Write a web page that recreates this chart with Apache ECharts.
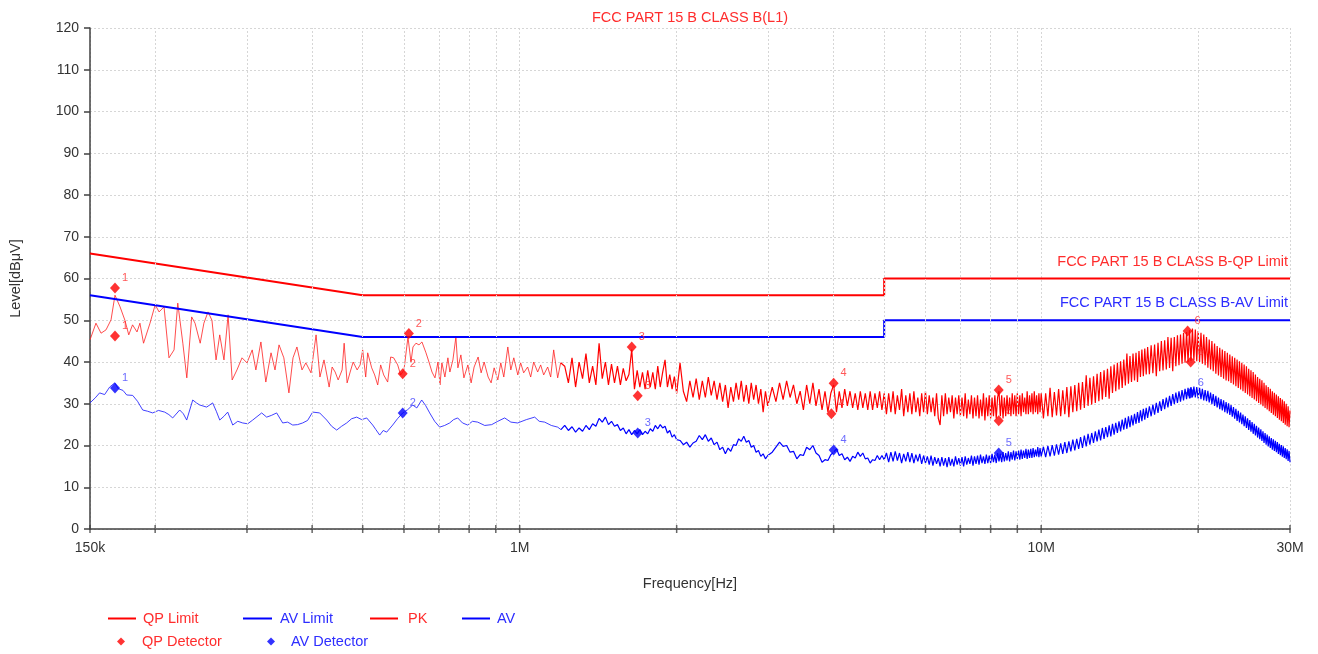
<!DOCTYPE html>
<html><head><meta charset="utf-8">
<script src="https://cdn.jsdelivr.net/npm/echarts@6/dist/echarts.min.js"></script>
<style>html,body{margin:0;padding:0;background:#fff}#c{width:1318px;height:654px}</style>
</head><body><div id="c"></div>
<script>
// ---------------- data (frequencies in MHz, levels in dBuV) ----------------
const titleText = 'FCC PART 15 B CLASS B(L1)';
const qpLimitLabel = 'FCC PART 15 B CLASS B-QP Limit';
const avLimitLabel = 'FCC PART 15 B CLASS B-AV Limit';
const xTickValues = [0.15, 1, 10, 30];
const xTickNames = ['150k', '1M', '10M', '30M'];
const tickFreq = [0.15,0.2,0.3,0.4,0.5,0.6,0.7,0.8,0.9,1,2,3,4,5,6,7,8,9,10,20,30];
const minorGridFreq = [0.2,0.3,0.4,0.5,0.6,0.7,0.8,0.9,2,3,4,5,6,7,8,9,20];

const qpLimitFreq = [0.15, 0.5, 5, 5, 30];
const qpLimitLevel = [66, 56, 56, 60, 60];
const avLimitFreq = [0.15, 0.5, 5, 5, 30];
const avLimitLevel = [56, 46, 46, 50, 50];

const pkLow = [[0.150,45.3],[0.154,49.3],[0.1575,46.9],[0.161,47.7],[0.1646,50.1],[0.1675,56.0],[0.1713,53.2],[0.175,50.0],[0.178,46.5],[0.181,48.9],[0.1846,47.2],[0.187,49.3],[0.190,44.5],[0.1955,49.3],[0.200,53.7],[0.2035,52.0],[0.208,53.2],[0.2126,41.0],[0.2174,42.9],[0.221,54.1],[0.226,44.5],[0.230,36.2],[0.235,50.8],[0.2385,49.3],[0.244,44.5],[0.248,49.3],[0.2526,52.0],[0.257,50.0],[0.2617,40.5],[0.266,46.5],[0.271,40.5],[0.276,51.3],[0.281,35.7],[0.287,38.1],[0.2935,41.0],[0.300,39.8],[0.307,42.9],[0.312,38.1],[0.319,44.8],[0.326,35.2],[0.3336,42.2],[0.3395,38.1],[0.3456,44.1],[0.353,41.0],[0.361,32.6],[0.3676,41.0],[0.374,43.6],[0.3825,38.1],[0.389,39.8],[0.398,37.4],[0.407,46.5],[0.414,36.4],[0.4215,40.5],
[0.4312,34.0],[0.4369,38.8],[0.4428,37.6],[0.4487,35.7],[0.4566,38.1],[0.4607,44.5],[0.4668,35.0],[0.4731,37.6],[0.4794,40.0],[0.4879,38.1],[0.4944,39.3],[0.500,42.9],[0.5067,36.4],[0.5112,42.2],[0.5203,38.6],[0.5272,36.9],[0.5343,34.5],[0.5413,39.3],[0.5486,36.9],[0.5583,35.2],[0.5658,41.2],[0.5733,41.0],[0.5836,39.3],[0.5913,36.9],[0.600,38.1],[0.6107,46.0],[0.6188,40.0],[0.6243,43.6],[0.6326,44.5],[0.6411,44.1],[0.6496,44.8],[0.6612,42.2],[0.670,40.0],[0.679,37.6],[0.688,36.2],[0.6972,40.0],[0.7034,34.5],[0.7093,39.8],[0.7188,36.4],[0.7284,41.0],[0.7348,37.6],[0.7447,40.5],[0.7546,46.0],[0.7613,38.6],[0.7714,41.7],[0.7817,36.2],[0.7956,39.3],[0.8071,35.0],[0.8178,38.8],[0.8324,41.2],[0.8435,37.4],[0.8548,40.0],[0.870,36.4],[0.8816,35.0],[0.8934,38.6],[0.908,35.7],[0.920,39.8],[0.9323,36.4],[0.949,43.6],[0.9617,38.1],[0.9744,41.0],[0.9918,36.9],[1.0044,39.8],[1.0178,37.4],[1.0359,38.8],[1.0498,36.4],[1.0638,40.0],[1.0827,37.6],[1.0971,39.3],[1.1118,36.9],[1.1316,38.8],[1.1467,36.4],[1.162,42.9],[1.1827,36.2],[1.1984,39.8]];

const avLow = [[0.150,30.2],[0.1535,31.4],[0.1565,32.6],[0.160,32.2],[0.1636,34.0],[0.1673,35.0],[0.170,33.6],[0.1735,33.2],[0.1764,32.1],[0.1811,32.0],[0.185,30.6],[0.1893,28.5],[0.1935,28.2],[0.1978,27.8],[0.203,28.4],[0.2086,28.0],[0.2125,27.4],[0.2161,26.6],[0.2229,28.5],[0.2265,27.6],[0.2299,26.1],[0.2361,30.9],[0.240,30.2],[0.2435,29.7],[0.2511,29.2],[0.2578,30.2],[0.262,28.2],[0.2660,26.1],[0.271,27.0],[0.2755,28.0],[0.2817,24.9],[0.288,25.8],[0.2943,25.4],[0.301,25.2],[0.3077,26.1],[0.3201,27.8],[0.3272,26.8],[0.334,27.2],[0.3420,27.8],[0.3512,25.4],[0.359,25.6],[0.3671,24.9],[0.375,25.0],[0.3836,25.4],[0.392,26.0],[0.4009,28.0],[0.4135,27.8],[0.4265,26.1],[0.436,24.6],[0.4458,23.7],[0.4555,24.6],[0.4659,25.4],[0.476,26.4],[0.4869,26.8],[0.498,26.2],[0.5089,26.6],[0.5226,24.9],[0.530,23.8],[0.5390,22.5],[0.5475,23.6],[0.5559,23.2],[0.5708,24.9],[0.583,26.4],[0.5966,27.8],[0.610,28.6],[0.6235,29.7],[0.635,29.0],[0.6488,30.9],[0.660,29.6],[0.6721,27.8],[0.687,25.8],[0.7024,24.4],[0.718,24.8],[0.7341,25.4],[0.747,26.2],[0.7605,26.6],[0.777,25.4],[0.7949,24.9],[0.812,25.8],[0.8308,25.6],[0.857,24.8],[0.8837,25.0],[0.908,25.8],[0.9359,26.6],[0.962,25.6],[0.9912,25.4],[1.03,26.2],[1.0685,26.8],[1.09,25.8],[1.1167,25.6],[1.15,24.8],[1.1827,24.4],[1.20,23.8]];

// dense part of the scan (1.22 MHz - 30 MHz): shared frequency list, PK and AV readings
const hiFreq = [
1.22,1.24,1.26,1.28,1.30,1.32,1.34,1.36,1.38,1.40,1.42,1.44,1.46,1.48,1.50,1.52,1.54,1.56,1.58,1.60,1.62,1.64,1.66,1.68,1.70,1.72,1.74,1.76,1.78,1.80,1.82,1.84,1.86,1.88,1.90,1.92,1.94,1.96,1.98,2.00,
2.03,2.06,2.09,2.12,2.15,2.18,2.21,2.24,2.27,2.30,2.33,2.36,2.39,2.42,2.45,2.48,2.51,2.54,2.57,2.60,2.63,2.66,2.69,2.72,2.75,2.78,2.81,2.84,2.87,2.90,2.93,2.96,2.99,
3.05,3.10,3.15,3.20,3.25,3.30,3.35,3.40,3.45,3.50,3.55,3.60,3.65,3.70,3.75,3.80,3.85,3.90,3.95,4.00,4.05,4.10,4.15,4.20,4.25,4.30,4.35,4.40,4.45,4.50,4.55,4.60,4.65,4.70,4.75,4.80,4.85,4.90,4.95,5.00,
5.05,5.10,5.15,5.20,5.25,5.30,5.35,5.40,5.45,5.50,
5.55,5.60,5.65,5.70,5.75,5.80,5.85,5.90,5.95,6.00,
6.05,6.10,6.15,6.20,6.25,6.30,6.35,6.40,6.45,6.50,
6.55,6.60,6.65,6.70,6.75,6.80,6.85,6.90,6.95,7.00,
7.05,7.10,7.15,7.20,7.25,7.30,7.35,7.40,7.45,7.50,
7.55,7.60,7.65,7.70,7.75,7.80,7.85,7.90,7.95,8.00,
8.05,8.10,8.15,8.20,8.25,8.30,8.35,8.40,8.45,8.50,
8.55,8.60,8.65,8.70,8.75,8.80,8.85,8.90,8.95,9.00,
9.05,9.10,9.15,9.20,9.25,9.30,9.35,9.40,9.45,9.50,
9.55,9.60,9.65,9.70,9.75,9.80,9.85,9.90,9.95,10.00,
10.1,10.2,10.3,10.4,10.5,10.6,10.7,10.8,10.9,11.0,
11.1,11.2,11.3,11.4,11.5,11.6,11.7,11.8,11.9,12.0,
12.1,12.2,12.3,12.4,12.5,12.6,12.7,12.8,12.9,13.0,
13.1,13.2,13.3,13.4,13.5,13.6,13.7,13.8,13.9,14.0,
14.1,14.2,14.3,14.4,14.5,14.6,14.7,14.8,14.9,15.0,
15.1,15.2,15.3,15.4,15.5,15.6,15.7,15.8,15.9,16.0,
16.125,16.25,16.375,16.5,16.625,16.75,16.875,17.0,
17.125,17.25,17.375,17.5,17.625,17.75,17.875,18.0,
18.125,18.25,18.375,18.5,18.625,18.75,18.875,19.0,
19.125,19.25,19.375,19.5,19.625,19.75,19.875,20.0,
20.125,20.25,20.375,20.5,20.625,20.75,20.875,21.0,
21.125,21.25,21.375,21.5,21.625,21.75,21.875,22.0,
22.125,22.25,22.375,22.5,22.625,22.75,22.875,23.0,
23.125,23.25,23.375,23.5,23.625,23.75,23.875,24.0,
24.125,24.25,24.375,24.5,24.625,24.75,24.875,25.0,
25.125,25.25,25.375,25.5,25.625,25.75,25.875,26.0,
26.125,26.25,26.375,26.5,26.625,26.75,26.875,27.0,
27.125,27.25,27.375,27.5,27.625,27.75,27.875,28.0,
28.125,28.25,28.375,28.5,28.625,28.75,28.875,29.0,
29.125,29.25,29.375,29.5,29.625,29.75,29.875,30.0];

const hiPk = [
39,35,41,34,40,36,42,35,39,34.5,44.5,36,40,34.5,39.5,35,39,34.5,38.5,35.5,37,43,33.5,38,34,37.5,33.5,38,34,37.5,33.5,39,34,37.5,40.5,34,37,33.5,36.5,32.5,
39.8,33,30.5,35.5,31.5,36,31,35.5,31.5,36.4,32,35.5,31,35,30.5,34.5,29,34,30.5,35,31,35.5,30.5,34.5,30,35,31,34.5,30,33.5,28,33,29.5,
34,30.5,35,31,35.5,31.5,34.5,30,33,28.5,34.5,30,35,29.5,33.5,28.5,33,28,32.5,34.5,28,33,29,33.5,29.5,33,29,32.5,28.5,33,29,32.5,28.5,33,28.5,32.5,29,33,28.5,32.5,
27.5,32.5,28,33,27.5,32,28.5,33.5,27,32,
28,32.5,27.5,33,28,31.5,27,32.5,28,33,
27.5,32,28,31.5,27,32.5,26.5,24.9,32,27,
32.5,27.5,31.5,28,32,26.5,31.5,27.5,32,27,
31.5,27,32.5,26.5,31,27.5,32,26.5,31.5,27,
32,26.5,31,27,32.5,26,31.5,27,32,26.5,
31.5,27,32,26.5,31.5,33,27,32,26.5,31.5,
27,32,27.5,31.5,27,32.5,27.5,32,27,32.5,
27.5,32,27,32.5,28,31.5,27.5,33,27.5,32,
28,32.5,27.5,33,28,32,27.5,32.5,28,32.5,
26.5,32.5,27,33.8,26.8,32.8,27.2,33.5,27,33.2,
27.5,34,26.8,34.2,28,34.5,28.2,35,28.6,35.2,
29,36.8,29.5,36.2,29.8,36.6,30.2,37.2,30.6,37.6,
31,38,31.6,38.4,31.2,39,32.6,39.4,33,39.8,
33.4,40.2,33.8,40.6,34.4,42,34.8,41.4,35.2,42,
35.6,42.2,35.2,42.6,36.4,43,36.6,43.2,37,43.6,
37.1,44.0,37.3,44.2,36.6,44.6,37.8,45.0,
38.0,45.2,38.2,46.0,38.6,45.8,37.8,46.0,
39.0,46.4,39.2,46.6,39.6,47.0,39.8,47.2,
40.0,47.6,40.2,48.0,40.4,47.8,40.2,47.4,
40.0,47.0,39.6,46.6,39.2,46.0,38.6,45.4,
38.2,45.0,37.8,44.4,37.2,43.8,36.8,43.4,
36.4,43.0,36.0,42.6,35.6,42.2,35.4,41.8,
35.0,41.4,34.6,41.0,34.2,40.6,33.8,40.2,
33.4,39.8,33.0,39.4,32.6,39.0,32.2,38.4,
31.8,38.0,31.4,37.6,31.0,37.0,30.6,36.4,
30.2,36.0,29.8,35.6,29.4,35.0,29.0,34.4,
28.6,34.0,28.2,33.6,27.8,33.0,27.4,32.6,
27.0,32.2,26.6,31.8,26.2,31.4,25.8,31.0,
25.4,30.6,25.0,30.0,24.6,29.4,24.4,28.4];

const hiAv = [
24.8,23.6,24.5,23.2,24.2,23.4,24.8,23.8,25.2,24.6,26.5,25.6,26.8,25.0,25.8,24.6,25.0,23.6,24.2,22.8,23.8,22.6,23.6,22.8,23.8,22.6,23.4,22.8,24.0,23.4,24.8,24.0,25.0,24.2,24.6,23.0,23.6,22.0,22.6,21.4,
21.2,20.2,20.8,19.6,20.6,21.0,22.4,21.4,22.6,21.0,21.8,20.2,20.8,19.0,19.6,18.0,19.4,18.6,20.2,20.0,21.6,21.0,22.2,20.8,21.2,19.6,20.0,18.4,18.8,17.4,18.0,16.8,17.6,
18.4,19.6,20.8,19.8,20.0,18.4,18.6,16.8,17.8,17.6,19.6,19.0,20.0,18.2,17.6,16.0,16.6,16.4,17.8,18.4,19.2,17.6,18.0,16.6,17.2,16.2,17.4,17.0,18.4,17.4,18.2,16.8,17.0,15.8,16.6,16.4,17.6,16.6,17.6,16.6,
18.2,16.0,18.4,16.2,18.6,16.4,18.2,15.8,18.0,16.2,
18.4,16.0,18.2,15.8,17.8,16.2,18.0,15.6,17.6,15.8,
17.4,15.4,17.6,15.2,17.2,15.6,17.0,15.0,17.2,15.2,
17.0,14.8,17.2,15.2,16.8,15.0,17.4,15.4,17.0,15.2,
17.2,15.0,17.4,15.4,17.0,15.6,17.6,15.2,17.4,15.6,
17.6,15.4,17.8,15.8,17.4,15.6,17.8,15.8,17.6,15.8,
18.0,16.0,17.8,15.8,18.2,16.2,18.0,16.0,18.4,16.2,
18.2,16.4,18.6,16.2,18.4,16.6,18.8,16.4,18.6,16.8,
18.8,16.6,19.0,16.8,18.8,17.0,19.2,16.8,19.0,17.0,
19.2,17.0,19.4,17.2,19.0,17.4,19.6,17.2,19.4,17.4,
19.7,17.2,19.9,17.4,20.1,17.6,20.3,17.8,20.5,18.0,
20.8,18.2,21.0,18.6,21.4,18.8,21.6,19.2,22.0,19.4,
22.4,19.8,22.8,20.2,23.0,20.6,23.4,21.0,23.8,21.2,
24.2,21.6,24.4,22.0,24.8,22.2,25.2,22.6,25.4,23.0,
25.8,23.4,26.2,23.8,26.6,24.0,27.0,24.4,27.2,24.8,
27.6,25.2,28.0,25.4,28.4,25.8,28.8,26.2,29.0,26.6,
29.4,27.0,29.8,27.4,30.2,27.8,30.6,28.3,
31.1,28.7,31.5,29.1,31.9,29.5,32.3,29.9,
32.7,30.2,33.0,30.5,33.3,30.8,33.6,31.1,
33.8,31.3,34.0,31.5,34.1,31.5,34.0,31.3,
33.8,31.1,33.6,30.8,33.3,30.6,33.1,30.3,
32.7,29.9,32.3,29.5,31.9,29.1,31.5,28.7,
31.1,28.4,30.8,28.0,30.4,27.7,30.1,27.3,
29.7,26.9,29.2,26.4,28.8,25.9,28.3,25.5,
27.9,25.1,27.4,24.6,27.0,24.2,26.5,23.7,
26.1,23.3,25.6,22.8,25.2,22.4,24.7,21.9,
24.3,21.5,23.9,21.1,23.4,20.6,23.0,20.2,
22.6,19.8,22.2,19.4,21.8,19.0,21.5,18.7,
21.1,18.4,20.8,18.0,20.4,17.7,20.1,17.3,
19.8,17.0,19.4,16.7,19.1,16.3,18.7,16.0];

const qpDetFreq  = [0.1675, 0.1675, 0.6131, 0.5966, 1.64, 1.684, 4.0, 3.96, 8.29, 8.29, 19.09, 19.35];
const qpDetLevel = [57.7, 46.2, 46.8, 37.2, 43.6, 31.9, 34.9, 27.6, 33.3, 25.9, 47.4, 40.0];
const qpDetNo    = ['1','1','2','2','3','3','4','4','5','5','6','6'];
const avDetFreq  = [0.1675, 0.5966, 1.684, 4.0, 8.29, 19.35];
const avDetLevel = [33.8, 27.8, 23.0, 18.9, 18.2, 32.6];
const avDetNo    = ['1','2','3','4','5','6'];

// ---------------- chart ----------------
const FONT = '"Liberation Sans", Arial, sans-serif';
const RED = '#ff0000', BLUE = '#0000ff', RED_T = '#ff2d2d', BLUE_T = '#2d2dff';
const AXIS = '#404040', GRIDC = '#d6d6d6';
const pair = (fs, vs) => fs.map((f, i) => [f, vs[i]]);
// the dense (noisy) part continues from the last low-frequency point
const pkHiData = [pkLow[pkLow.length - 1]].concat(pair(hiFreq, hiPk));
const avHiData = [avLow[avLow.length - 1]].concat(pair(hiFreq, hiAv));

function legendItem(name, left, top, icon, w, h, color, pad) {
  return { data: [name], left: left, top: top, padding: 0, icon: icon, itemWidth: w, itemHeight: h,
    selectedMode: false, textStyle: { color: color, fontSize: 14.5, fontFamily: FONT, padding: [0, 0, 0, pad] } };
}

const chart = echarts.init(document.getElementById('c'));
chart.setOption({
  animation: false,
  backgroundColor: '#fff',
  grid: { left: 90, right: 28, top: 28, bottom: 125 },
  graphic: [
    { type: 'text', x: 690, y: 18, style: { text: titleText, align: 'center', verticalAlign: 'middle', fill: RED_T, fontSize: 14.5, fontFamily: FONT } },
    { type: 'text', x: 1288, y: 262, style: { text: qpLimitLabel, align: 'right', verticalAlign: 'middle', fill: RED_T, fontSize: 14.5, fontFamily: FONT } },
    { type: 'text', x: 1288, y: 303, style: { text: avLimitLabel, align: 'right', verticalAlign: 'middle', fill: BLUE_T, fontSize: 14.5, fontFamily: FONT } }
  ],
  legend: [
    legendItem('QP Limit', 108, 611, 'rect', 28, 2, RED_T, 2),
    legendItem('AV Limit', 243, 611, 'rect', 29, 2, BLUE_T, 3),
    legendItem('PK', 370, 611, 'rect', 28, 2, RED_T, 5),
    legendItem('AV', 462, 611, 'rect', 28, 2, BLUE_T, 2),
    legendItem('QP Detector', 117, 634, 'diamond', 8, 8, RED_T, 12),
    legendItem('AV Detector', 267, 634, 'diamond', 8, 8, BLUE_T, 11)
  ],
  xAxis: {
    type: 'log', logBase: 10, min: 0.15, max: 30,
    name: 'Frequency[Hz]', nameLocation: 'middle', nameGap: 47,
    nameTextStyle: { color: '#333', fontSize: 14.5, fontFamily: FONT },
    axisLine: { show: true, onZero: false, lineStyle: { color: AXIS, width: 1.5 } },
    axisTick: { show: false },
    axisLabel: { color: '#333', fontSize: 14, fontFamily: FONT, margin: 12,
      formatter: v => { const i = xTickValues.findIndex(t => Math.abs(t - v) / t < 1e-3); return i >= 0 ? xTickNames[i] : ''; } },
    splitLine: { show: true, lineStyle: { color: GRIDC, type: [2, 2], width: 1 } }
  },
  yAxis: {
    type: 'value', min: 0, max: 120, interval: 10,
    name: 'Level[dBμV]', nameLocation: 'middle', nameGap: 67, nameRotate: 90,
    nameTextStyle: { color: '#333', fontSize: 14.5, fontFamily: FONT },
    axisLine: { show: true, lineStyle: { color: AXIS, width: 1.5 } },
    axisTick: { show: true, length: 6, lineStyle: { color: AXIS, width: 1.5 } },
    axisLabel: { color: '#333', fontSize: 14, fontFamily: FONT, margin: 11 },
    splitLine: { show: true, lineStyle: { color: GRIDC, type: [2, 2], width: 1 } }
  },
  series: [
    { type: 'line', name: 'vgrid', data: [[0.15, 0]], symbol: 'none', silent: true, z: 1, lineStyle: { width: 0 },
      markLine: { silent: true, symbol: ['none', 'none'], label: { show: false }, animation: false,
        lineStyle: { color: GRIDC, type: [2, 2], width: 1 }, data: minorGridFreq.map(f => ({ xAxis: f })) } },
    { type: 'line', name: 'PK', data: pkLow, color: RED, symbol: 'none', lineStyle: { color: '#ff2020', width: 1, opacity: 0.8 }, z: 2 },
    { type: 'line', name: 'PK', data: pkHiData, color: RED, symbol: 'none', lineStyle: { color: RED, width: 1.2 }, z: 2 },
    { type: 'line', name: 'AV', data: avLow, color: BLUE, symbol: 'none', lineStyle: { color: '#2020ff', width: 1, opacity: 0.85 }, z: 2 },
    { type: 'line', name: 'AV', data: avHiData, color: BLUE, symbol: 'none', lineStyle: { color: BLUE, width: 1.2 }, z: 2 },
    { type: 'line', name: 'QP Limit', data: pair(qpLimitFreq, qpLimitLevel), color: RED, symbol: 'none', lineStyle: { color: RED, width: 2 }, z: 3 },
    { type: 'line', name: 'AV Limit', data: pair(avLimitFreq, avLimitLevel), color: BLUE, symbol: 'none', lineStyle: { color: BLUE, width: 2 }, z: 3 },
    { type: 'scatter', name: 'QP Detector', color: RED, symbol: 'diamond', symbolSize: [10, 11], z: 5,
      itemStyle: { color: RED },
      label: { show: true, position: 'top', distance: 3, offset: [10, 4], color: RED_T, fontSize: 11, fontFamily: FONT, formatter: '{b}' },
      data: qpDetFreq.map((f, i) => ({ name: qpDetNo[i], value: [f, qpDetLevel[i]] })) },
    { type: 'scatter', name: 'AV Detector', color: BLUE, symbol: 'diamond', symbolSize: [10, 11], z: 5,
      itemStyle: { color: BLUE },
      label: { show: true, position: 'top', distance: 3, offset: [10, 4], color: '#4646ff', fontSize: 11, fontFamily: FONT, formatter: '{b}' },
      data: avDetFreq.map((f, i) => ({ name: avDetNo[i], value: [f, avDetLevel[i]] })) },
    { type: 'scatter', name: 'ticks', data: tickFreq.map(f => [f, 0]), symbol: 'rect', symbolSize: [1.5, 8],
      itemStyle: { color: AXIS }, silent: true, z: 6, clip: false }
  ]
});
</script>
</body></html>
